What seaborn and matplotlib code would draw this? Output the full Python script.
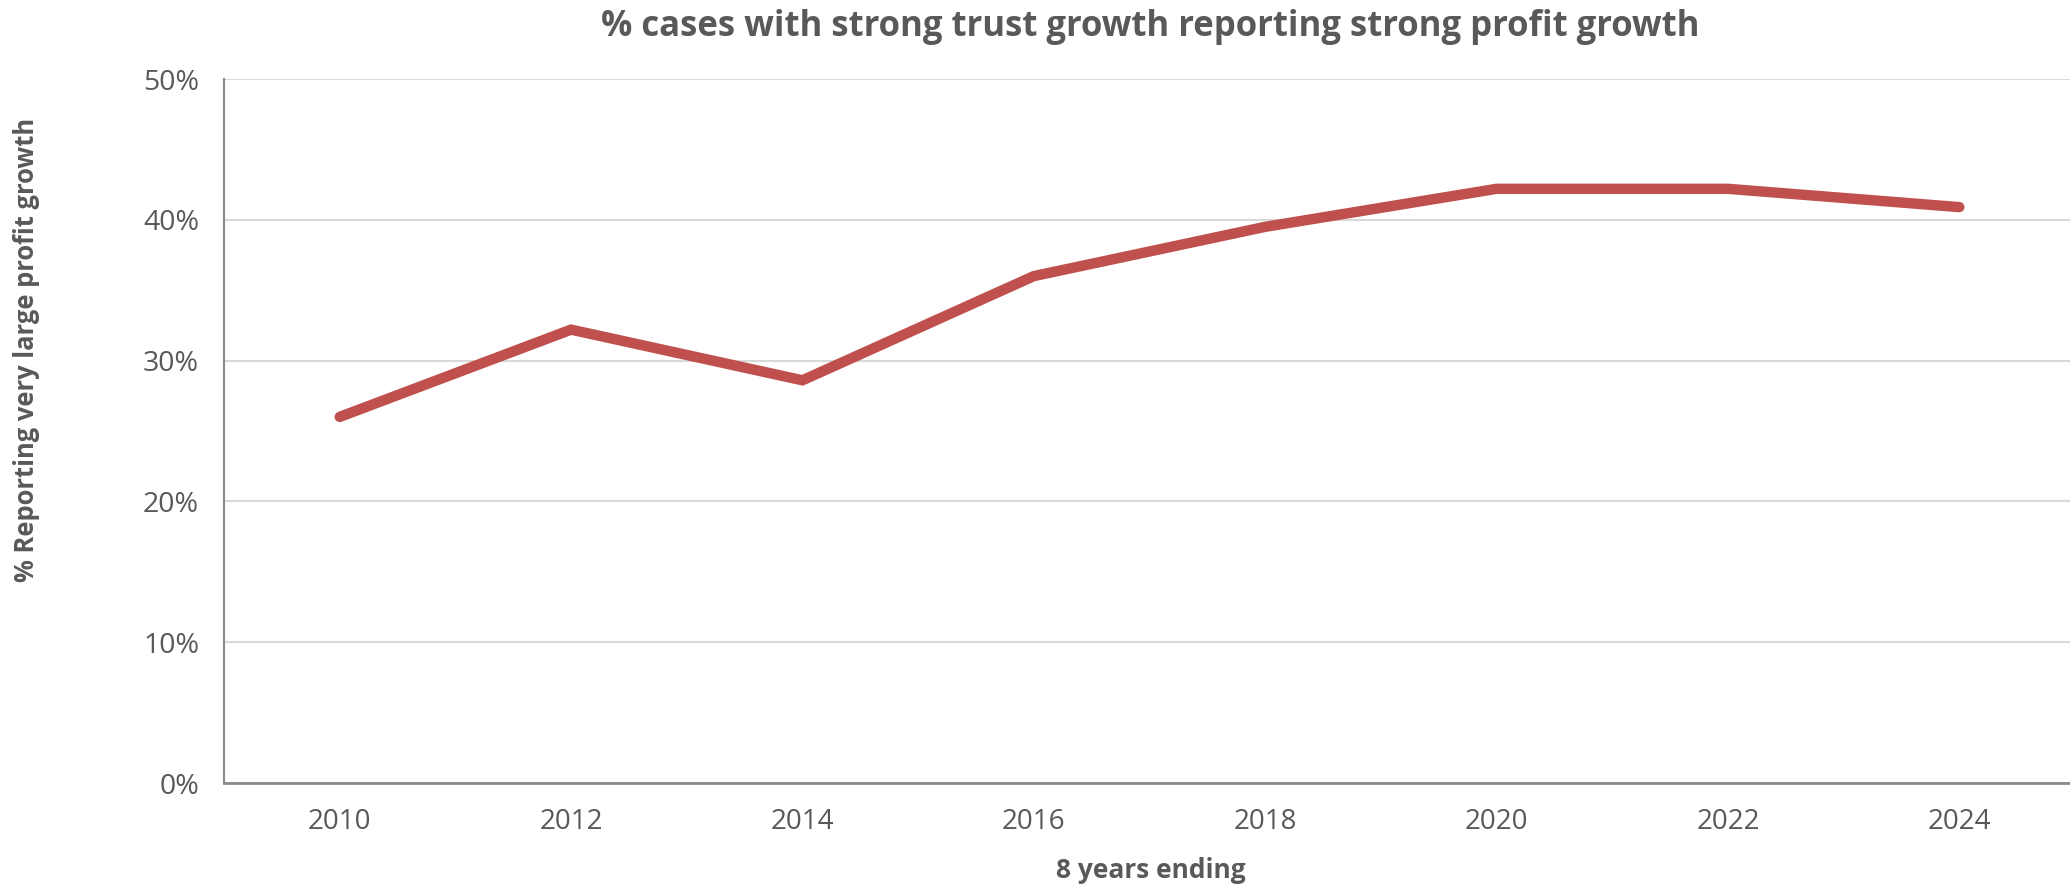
import matplotlib
matplotlib.use("Agg")
import matplotlib.pyplot as plt
import seaborn as sns
import pandas as pd
from matplotlib.ticker import FuncFormatter

# Share of cases with strong trust growth that also report strong profit growth
years = ["2010", "2012", "2014", "2016", "2018", "2020", "2022", "2024"]
pct_reporting = [26.0, 32.2, 28.6, 36.0, 39.5, 42.2, 42.2, 40.9]

df = pd.DataFrame({"year": years, "pct": pct_reporting})

sns.set_theme(style="white")
plt.rcParams["font.family"] = ["Open Sans", "DejaVu Sans"]

text_color = "#595959"
W, H = 2070, 889

fig = plt.figure(figsize=(W / 100, H / 100), dpi=100)
ax = fig.add_axes([224 / W, 1 - 783 / H, (2075 - 224) / W, (783 - 79) / H])

sns.lineplot(data=df, x="year", y="pct", ax=ax, color="#C0504D",
             linewidth=7.5, sort=False)
for line in ax.get_lines():
    line.set_solid_capstyle("round")
    line.set_solid_joinstyle("miter")

ax.set_xlim(-0.5, len(years) - 0.5)
ax.set_ylim(0, 50)
ax.set_yticks([0, 10, 20, 30, 40, 50])
ax.yaxis.set_major_formatter(FuncFormatter(lambda v, _: f"{v:.0f}%"))

ax.grid(axis="y", color="#D9D9D9", linewidth=1.5)
ax.grid(axis="x", visible=False)
ax.set_axisbelow(True)

for side in ["top", "right"]:
    ax.spines[side].set_visible(False)
ax.spines["left"].set_color("#898989")
ax.spines["left"].set_linewidth(1.5)
ax.spines["bottom"].set_color("#898989")
ax.spines["bottom"].set_linewidth(2)

ax.tick_params(axis="x", length=0, labelsize=20, labelcolor=text_color, pad=18)
ax.tick_params(axis="y", length=0, labelsize=20.5, labelcolor=text_color, pad=18)

ax.set_xlabel("")
ax.set_ylabel("")

fig.text(1151 / W, 1 - 871 / H, "8 years ending", ha="center", va="center",
         fontsize=19, fontweight="bold", color=text_color)
fig.text(27 / W, 1 - 350 / H, "% Reporting very large profit growth",
         ha="center", va="center", rotation=90, fontsize=18.4,
         fontweight="bold", color=text_color)
fig.text(1150 / W, 1 - 27 / H,
         "% cases with strong trust growth reporting strong profit growth",
         ha="center", va="center", fontsize=25, fontweight="bold",
         color=text_color)

fig.savefig("out.png", dpi=100, facecolor="white")
